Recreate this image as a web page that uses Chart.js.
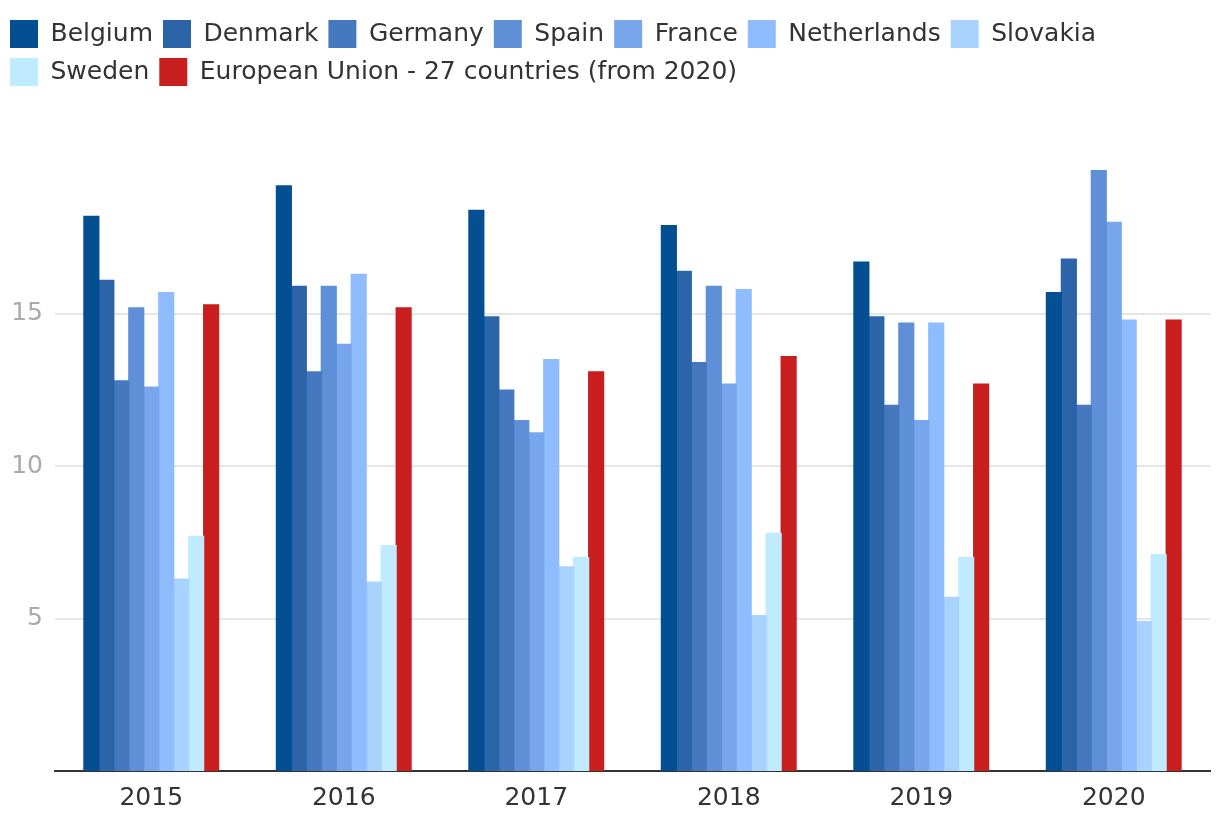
<!DOCTYPE html>
<html>
<head>
<meta charset="utf-8">
<script src="https://cdn.jsdelivr.net/npm/chart.js@4"></script>
<style>
  html, body { margin: 0; padding: 0; background: #fff; }
  #wrap { width: 1220px; height: 834px; }
</style>
</head>
<body>
<div id="wrap"><canvas id="myChart"></canvas></div>
<script>
// data
const years = ['2015', '2016', '2017', '2018', '2019', '2020'];
const belgium     = [18.2, 19.2, 18.4, 17.9, 16.7, 15.7];
const denmark     = [16.1, 15.9, 14.9, 16.4, 14.9, 16.8];
const germany     = [12.8, 13.1, 12.5, 13.4, 12.0, 12.0];
const spain       = [15.2, 15.9, 11.5, 15.9, 14.7, 19.7];
const france      = [12.6, 14.0, 11.1, 12.7, 11.5, 18.0];
const netherlands = [15.7, 16.3, 13.5, 15.8, 14.7, 14.8];
const slovakia    = [6.3, 6.2, 6.7, 5.1, 5.7, 4.9];
const sweden      = [7.7, 7.4, 7.0, 7.8, 7.0, 7.1];
const eu27        = [15.3, 15.2, 13.1, 13.6, 12.7, 14.8];
const yTicks = [5, 10, 15];

const font = "'DejaVu Sans', sans-serif";

function series(label, values, color) {
    return {
        label: label,
        data: values,
        backgroundColor: color,
        borderWidth: 0,
        inflateAmount: 0.6,
        barPercentage: 1,
        categoryPercentage: 0.7
    };
}

// config
const config = {
    type: 'bar',
    data: {
        labels: years,
        datasets: [
            series('Belgium', belgium, '#034f91'),
            series('Denmark', denmark, '#2c64aa'),
            series('Germany', germany, '#4678c0'),
            series('Spain', spain, '#5f8fd7'),
            series('France', france, '#78a6ec'),
            series('Netherlands', netherlands, '#8fbcff'),
            series('Slovakia', slovakia, '#a8d3fe'),
            series('Sweden', sweden, '#c0eaff'),
            series('European Union - 27 countries (from 2020)', eu27, '#c81e1e')
        ]
    },
    options: {
        responsive: false,
        animation: false,
        layout: { padding: { top: 10, right: 10, left: 0, bottom: 0 } },
        plugins: {
            tooltip: { enabled: false },
            legend: {
                position: 'top',
                align: 'start',
                labels: {
                    boxWidth: 28,
                    boxHeight: 28,
                    padding: 10,
                    color: '#333',
                    font: { family: font, size: 25 }
                }
            }
        },
        scales: {
            x: {
                grid: { display: false, drawTicks: false },
                border: { display: true, color: '#333', width: 2 },
                ticks: { color: '#333', padding: 12, font: { family: font, size: 25 } },
                afterFit: function (scale) { scale.height = 63; }
            },
            y: {
                min: 0,
                max: 22.15,
                border: { display: false },
                grid: { color: '#e6e6e6', lineWidth: 2, drawTicks: false },
                ticks: { color: '#aaa', padding: 12, font: { family: font, size: 25 } },
                afterBuildTicks: function (scale) {
                    scale.ticks = yTicks.map(v => ({ value: v }));
                },
                afterFit: function (scale) { scale.width = 55; }
            }
        }
    }
};

const canvas = document.getElementById('myChart');
canvas.width = 1220;
canvas.height = 834;
const myChart = new Chart(canvas, config);
</script>
</body>
</html>
